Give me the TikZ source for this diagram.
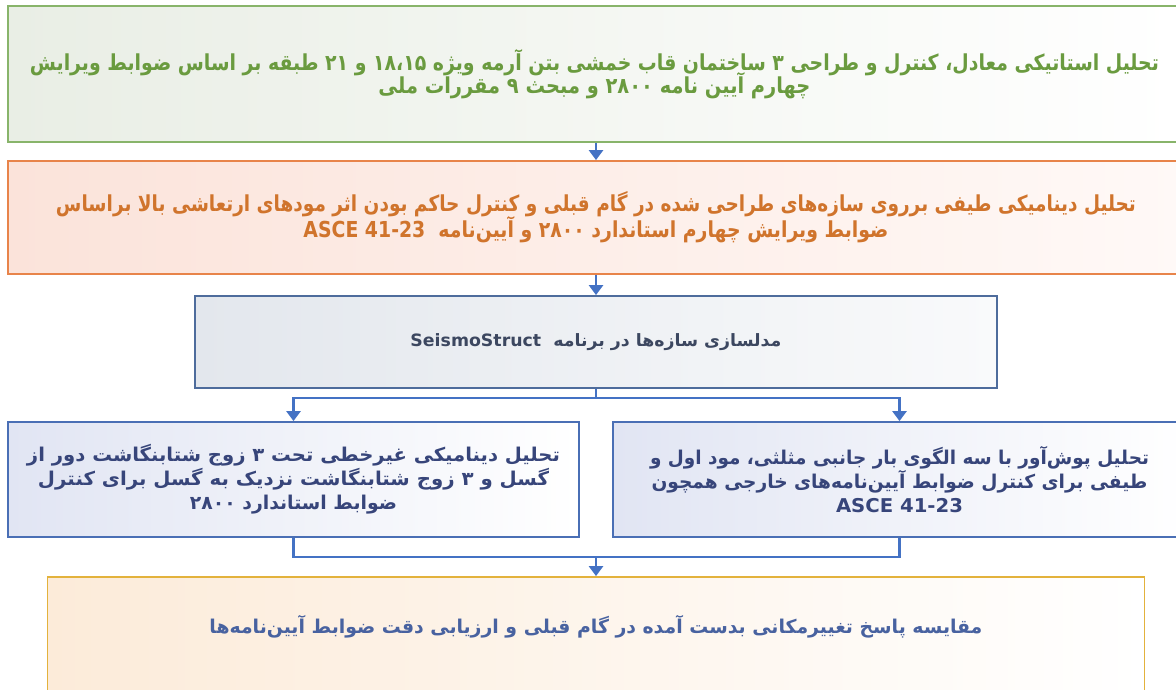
\documentclass[tikz,border=0pt]{standalone}
\usepackage{fontspec}
\usepackage{graphicx}
\usetikzlibrary{arrows.meta}
\TeXXeTstate=1
\newfontfamily\fa[Script=Arabic]{DejaVu Sans}
\newcommand\fitR[2]{\resizebox{#1pt}{\height}{#2}}
\newcommand\tightls{\setlength{\lineskiplimit}{-50pt}}
\definecolor{gB}{HTML}{88B46A}\definecolor{gF}{HTML}{E9EEE5}\definecolor{gT}{HTML}{6A9B3F}
\definecolor{oB}{HTML}{E8844A}\definecolor{oF}{HTML}{FBE3DA}\definecolor{oR}{HTML}{FFF9F7}\definecolor{oT}{HTML}{D0742C}
\definecolor{sB}{HTML}{4E6C9C}\definecolor{sF}{HTML}{E3E7ED}\definecolor{sR}{HTML}{F9FAFB}\definecolor{sT}{HTML}{3C4760}
\definecolor{bB}{HTML}{4A6FB5}\definecolor{bF}{HTML}{E1E5F3}\definecolor{bT}{HTML}{37457A}
\definecolor{yB}{HTML}{E3B23C}\definecolor{yF}{HTML}{FCEBD9}\definecolor{yT}{HTML}{4862A0}
\definecolor{arrowc}{HTML}{4472C4}
\begin{document}
\begin{tikzpicture}[x=1pt,y=-1pt,
  box/.style={draw, line width=1.8pt, rectangle, inner sep=0pt, align=center},
  conn/.style={draw=arrowc, line width=2.6pt},
  arr/.style={conn, -{Triangle[width=14pt,length=10pt]}},
  f1/.style={font=\fa\bfseries\fontsize{22}{23}\selectfont\tightls},
  f2/.style={font=\fa\bfseries\fontsize{22}{26}\selectfont\tightls},
  f3/.style={font=\fa\bfseries\fontsize{17}{20}\selectfont\tightls},
  f4/.style={font=\fa\bfseries\fontsize{19}{24}\selectfont\tightls},
  f6/.style={font=\fa\bfseries\fontsize{19}{20}\selectfont\tightls},
]
\useasboundingbox (0,0) rectangle (1176,689);
\clip (0,0) rectangle (1176,689);

\node[box, f1, draw=gB, left color=gF, right color=white, text=gT,
  minimum width=1173pt, minimum height=136pt] (b1) at (594.5,74)
  {\fitR{1129}{\beginR تحلیل استاتیکی معادل، کنترل و طراحی ۳ ساختمان قاب خمشی بتن آرمه ویژه ۱۸،۱۵ و ۲۱ طبقه بر اساس ضوابط ویرایش\endR}\\
   \fitR{432}{\beginR چهارم آیین نامه ۲۸۰۰ و مبحث ۹ مقررات ملی\endR}};

\node[box, f2, draw=oB, left color=oF, right color=oR, text=oT,
  minimum width=1176pt, minimum height=113pt] (b2) at (596,217.5)
  {\fitR{1080}{\beginR تحلیل دینامیکی طیفی برروی سازه‌های طراحی شده در گام قبلی و کنترل حاکم بودن اثر مودهای ارتعاشی بالا براساس\endR}\\
   \fitR{585}{\beginR ضوابط ویرایش چهارم استاندارد ۲۸۰۰ و آیین‌نامه \ \beginL ASCE 41-23\endL\endR}};

\node[box, f3, draw=sB, left color=sF, right color=sR, text=sT,
  minimum width=802pt, minimum height=92pt] (b3) at (596,342)
  {\fitR{371}{\beginR مدلسازی سازه‌ها در برنامه \ \beginL SeismoStruct\endL\endR}};

\node[box, f4, draw=bB, left color=bF, right color=white, text=bT,
  minimum width=571pt, minimum height=115pt] (b4) at (293.5,479.5)
  {\fitR{533}{\beginR تحلیل دینامیکی غیرخطی تحت ۳ زوج شتابنگاشت دور از\endR}\\
   \fitR{511}{\beginR گسل و ۳ زوج شتابنگاشت نزدیک به گسل برای کنترل\endR}\\
   \fitR{207}{\beginR ضوابط استاندارد ۲۸۰۰\endR}};

\node[box, f4, draw=bB, left color=bF, right color=white, text=bT,
  minimum width=573pt, minimum height=115pt] (b5) at (899.5,479.5)
  {\fitR{499}{\beginR تحلیل پوش‌آور با سه الگوی بار جانبی مثلثی، مود اول و\endR}\\
   \fitR{496}{\beginR طیفی برای کنترل ضوابط آیین‌نامه‌های خارجی همچون\endR}\\
   \resizebox{127pt}{\height}{ASCE 41-23}};

\node[box, draw=yB, left color=yF, right color=white,
  minimum width=1097pt, minimum height=146pt] (b6) at (596,650) {};
\node[f6, text=yT, inner sep=0pt] (t6) at (596,627)
  {\fitR{773}{\beginR مقایسه پاسخ تغییرمکانی بدست آمده در گام قبلی و ارزیابی دقت ضوابط آیین‌نامه‌ها\endR}};

\draw[arr] (b1.south -| b2.north) -- (b2.north);
\draw[arr] (b2.south) -- (b3.north);
\coordinate (split) at (596,398);
\draw[conn] (b3.south) -- (split);
\draw[arr] (split) -| (b4.north);
\draw[arr] (split) -| (b5.north);
\coordinate (join) at (596,557);
\draw[conn] (b4.south) |- (join);
\draw[conn] (b5.south) |- (join);
\draw[arr] (join) -- (b6.north);
\end{tikzpicture}
\end{document}
